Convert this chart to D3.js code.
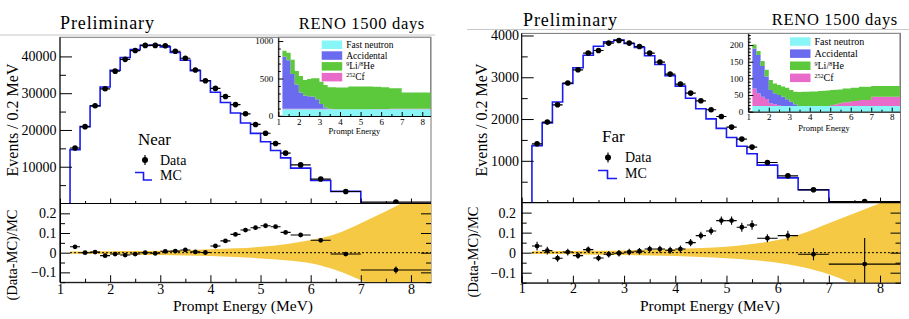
<!DOCTYPE html>
<html>
<head>
<meta charset="utf-8">
<script src="https://cdn.jsdelivr.net/npm/d3@7"></script>
<style>
  body { margin: 0; background: #fff; }
  svg { display: block; }
  text { font-family: "Liberation Serif", "Times New Roman", serif; fill: #000; }
</style>
</head>
<body>
<svg id="chart" width="909" height="319"></svg>
<script>
// bin edges shared by both detectors (MeV); 0.2 MeV bins then wider ones
const binEdges = [1.2, 1.4, 1.6, 1.8, 2.0, 2.2, 2.4, 2.6, 2.8, 3.0, 3.2, 3.4, 3.6, 3.8, 4.0,
  4.2, 4.4, 4.6, 4.8, 5.0, 5.2, 5.4, 5.6, 6.0, 6.4, 7.0, 8.4];

// Near detector, events / 0.2 MeV
const nearData = [15100, 20900, 26600, 31200, 36000, 39200, 41600, 43000, 43000, 42900, 41400, 39500,
  36300, 33400, 31300, 29100, 26900, 24400, 21500, 19100, 16300, 13700, 10500, 6650, 3270, 380];
const nearMC = [14660, 20900, 26500, 31700, 36250, 39700, 41900, 43000, 43100, 42600, 41070, 38950,
  36150, 33370, 30270, 27450, 24610, 21880, 19080, 16800, 14400, 12420, 9630, 6260, 3290, 0];
const nearRatio = [0.030, 0.000, 0.003, -0.015, -0.007, -0.012, -0.007, 0.000, -0.003, 0.007, 0.008, 0.014,
  0.004, 0.001, 0.034, 0.060, 0.093, 0.115, 0.127, 0.137, 0.132, 0.103, 0.090, 0.063, -0.007, -0.088];
const nearRatioErr = [0.004, 0.003, 0.003, 0.003, 0.003, 0.003, 0.003, 0.003, 0.003, 0.003, 0.003, 0.003,
  0.003, 0.003, 0.004, 0.004, 0.004, 0.004, 0.005, 0.005, 0.005, 0.006, 0.005, 0.006, 0.008, 0.018];

// Far detector, events / 0.2 MeV
const farData = [1408, 1927, 2341, 2861, 3179, 3579, 3641, 3818, 3881, 3818, 3737, 3579,
  3364, 3076, 2837, 2621, 2437, 2222, 2061, 1807, 1520, 1329, 960, 642, 306, 25];
const farMC = [1363, 1908, 2408, 2852, 3227, 3526, 3742, 3849, 3893, 3807, 3711, 3516,
  3305, 3040, 2787, 2496, 2246, 2005, 1777, 1558, 1349, 1168, 896, 592, 308, 0];
const farRatio = [0.033, 0.010, -0.028, 0.003, -0.015, 0.015, -0.027, -0.008, -0.003, 0.003, 0.007, 0.018,
  0.018, 0.012, 0.018, 0.050, 0.085, 0.108, 0.160, 0.160, 0.127, 0.138, 0.072, 0.085, -0.008, -0.057];
const farRatioErr = [0.022, 0.019, 0.018, 0.017, 0.016, 0.016, 0.016, 0.016, 0.016, 0.016, 0.016, 0.016,
  0.017, 0.017, 0.018, 0.018, 0.019, 0.019, 0.020, 0.021, 0.022, 0.024, 0.020, 0.024, 0.030, 0.130];

// systematic uncertainty band of the MC prediction
const bandE = [1.2, 1.5, 2, 2.5, 3, 3.5, 4, 4.5, 5, 5.5, 6, 6.5, 7, 7.5, 8, 8.4];
const nearBandUp = [0.006, 0.006, 0.007, 0.008, 0.010, 0.013, 0.017, 0.022, 0.030, 0.043, 0.064, 0.095, 0.150, 0.210, 0.280, 0.350];
const nearBandLo = [-0.006, -0.006, -0.008, -0.010, -0.012, -0.014, -0.017, -0.022, -0.029, -0.038, -0.054, -0.088, -0.140, -0.200, -0.270, -0.340];
const farBandUp = [0.007, 0.007, 0.008, 0.009, 0.011, 0.014, 0.018, 0.023, 0.030, 0.043, 0.063, 0.097, 0.147, 0.197, 0.247, 0.290];
const farBandLo = [-0.007, -0.007, -0.008, -0.010, -0.012, -0.014, -0.017, -0.022, -0.028, -0.037, -0.050, -0.073, -0.108, -0.160, -0.220, -0.270];

// backgrounds shown in the insets (stacked, same binning)
const nearFast = [90, 90, 90, 90, 90, 90, 90, 90, 90, 90, 90, 90, 90, 90, 90, 90, 90, 90, 90, 90, 90, 90, 90, 90, 90, 90];
const nearCf = [8, 8, 8, 8, 8, 8, 8, 8, 8, 8, 6, 4, 2, 0, 0, 0, 0, 0, 0, 0, 0, 0, 2, 4, 6, 8];
const nearAcc = [697, 647, 462, 322, 217, 177, 164, 160, 127, 62, 19, 4, 0, 0, 0, 0, 0, 0, 0, 0, 0, 0, 0, 0, 0, 0];
const nearLiHe = [75, 100, 190, 180, 220, 205, 233, 247, 280, 298, 298, 284, 290, 290, 290, 290, 305, 305, 305, 305, 305, 305, 298, 288, 274, 214];

const farFast = [17, 17, 17, 17, 17, 17, 17, 17, 17, 17, 17, 17, 17, 17, 17, 17, 17, 17, 17, 17, 17, 17, 17, 17, 17, 17];
const farCf = [53, 38, 28, 21, 8, 5, 3, 0, 0, 0, 0, 0, 0, 0, 0, 0, 0, 0, 0, 3, 5, 8, 11, 15, 18, 28];
const farAcc = [120, 115, 92, 68, 40, 33, 30, 28, 20, 13, 5, 0, 0, 0, 0, 0, 0, 0, 0, 0, 0, 0, 0, 0, 0, 0];
const farLiHe = [12, 12, 15, 20, 30, 30, 30, 31, 35, 35, 38, 42, 43, 43, 44, 44, 45, 46, 47, 45, 44, 42, 42, 40, 40, 32];

// ticks
const xTicks = [1, 2, 3, 4, 5, 6, 7, 8];
const xMinor = [1.5, 2.5, 3.5, 4.5, 5.5, 6.5, 7.5];
const ratioTicks = [-0.1, 0, 0.1, 0.2];
const ratioMinor = [-0.15, -0.05, 0.05, 0.15];
const nearYTicks = [10000, 20000, 30000, 40000];
const nearYMinor = [5000, 15000, 25000, 35000];
const farYTicks = [1000, 2000, 3000, 4000];
const farYMinor = [500, 1500, 2500, 3500];
const nearInsetTicks = [0, 500, 1000];
const nearInsetMinor = [100, 200, 300, 400, 600, 700, 800, 900];
const farInsetTicks = [0, 50, 100, 150, 200];
const farInsetMinor = [10, 20, 30, 40, 60, 70, 80, 90, 110, 120, 130, 140, 160, 170, 180, 190, 210, 220, 230];

const bkgKeys = ['fast', 'cf', 'acc', 'lihe'];
const bkgColors = { fast: '#88f6f6', cf: '#e86ac9', acc: '#6b6bef', lihe: '#5cc93c' };
const legendOrder = ['fast', 'acc', 'lihe', 'cf'];
const bandColor = '#f6c945';
const mcColor = '#1a1af2';

const svg = d3.select('#chart');

const panels = [
  {
    id: 'near', label: 'Near',
    data: nearData, mc: nearMC, ratio: nearRatio, ratioErr: nearRatioErr,
    bandUp: nearBandUp, bandLo: nearBandLo,
    bkg: { fast: nearFast, cf: nearCf, acc: nearAcc, lihe: nearLiHe },
    yMax: 45200, yTicks: nearYTicks, yMinor: nearYMinor,
    insetMax: 1050, insetTicks: nearInsetTicks, insetMinor: nearInsetMinor,
    frame: { left: 60, right: 431, top: 37.3, split: 203.5, bottom: 282.2 },
    inset: { left: 278.3, right: 430.5, top: 37.3, bottom: 116, tickBase: 125, titleBase: 134, legX: 321.7, legY: 44.5, legDy: 10.8, legFont: 9.5 },
    head: { lineY: 35, lineX0: 0, lineX1: 435, prelimX: 60, prelimY: 29, renoX: 425, renoY: 29 },
    yLabel: { x: 17.5, y: 120, rx: 17, ry: 255, tickRight: 56.5, ratioTickRight: 56.5 },
    xLabel: { x: 243, y: 310.5, tickBase: 293.5 },
    legend: { labelX: 138, labelY: 145, markX: 145, dataY: 160, dataBase: 164.5, mcY0: 172.5, mcY1: 180, mcBase: 180.4, mcX0: 135, mcX1: 152, textX: 160 }
  },
  {
    id: 'far', label: 'Far',
    data: farData, mc: farMC, ratio: farRatio, ratioErr: farRatioErr,
    bandUp: farBandUp, bandLo: farBandLo,
    bkg: { fast: farFast, cf: farCf, acc: farAcc, lihe: farLiHe },
    yMax: 4050, yTicks: farYTicks, yMinor: farYMinor,
    insetMax: 235, insetTicks: farInsetTicks, insetMinor: farInsetMinor,
    frame: { left: 521.7, right: 900.5, top: 33.4, split: 202.6, bottom: 282.7 },
    inset: { left: 748.3, right: 899.9, top: 33.4, bottom: 111.7, tickBase: 120.5, titleBase: 130.5, legX: 790, legY: 41.3, legDy: 12.1, legFont: 10 },
    head: { lineY: 29.5, lineX0: 467, lineX1: 909, prelimX: 523, prelimY: 25.5, renoX: 898, renoY: 25 },
    yLabel: { x: 487, y: 120, rx: 478, ry: 252, tickRight: 519, ratioTickRight: 516 },
    xLabel: { x: 710, y: 310.5, tickBase: 293 },
    legend: { labelX: 602, labelY: 142, markX: 608, dataY: 157.5, dataBase: 162, mcY0: 170.5, mcY1: 178.5, mcBase: 178, mcX0: 598, mcX1: 617, textX: 625 }
  }
];

const bins = binEdges.slice(0, -1).map((lo, i) => ({ i, lo, hi: binEdges[i + 1], mid: (lo + binEdges[i + 1]) / 2 }));

function styleAxis(sel) {
  sel.selectAll('.domain').attr('stroke', '#000').attr('stroke-width', 1);
  sel.selectAll('.tick line').attr('stroke', '#000').attr('stroke-width', 1);
  sel.selectAll('.tick text').attr('fill', '#000');
  sel.attr('font-family', null).attr('font-size', null);
}

function drawPanel(p) {
  const F = p.frame;
  const g = svg.append('g').attr('class', `panel-${p.id}`);

  const x = d3.scaleLinear().domain([1, 8.4]).range([F.left, F.right]);
  const y = d3.scaleLinear().domain([0, p.yMax]).range([F.split, F.top]);
  const yr = d3.scaleLinear().domain([-0.15, 0.25]).range([F.bottom, F.split]);

  // header text and separator line
  g.append('line')
    .attr('x1', p.head.lineX0).attr('x2', p.head.lineX1)
    .attr('y1', p.head.lineY).attr('y2', p.head.lineY)
    .attr('stroke', '#c8c8c8').attr('stroke-width', 1);
  g.append('text')
    .attr('x', p.head.prelimX).attr('y', p.head.prelimY)
    .style('font-size', '18px').style('letter-spacing', '0.9px')
    .text('Preliminary');
  g.append('text')
    .attr('x', p.head.renoX).attr('y', p.head.renoY)
    .attr('text-anchor', 'end')
    .style('font-size', '16.5px').style('letter-spacing', '0.7px')
    .text('RENO 1500 days');

  // clip regions
  const defs = g.append('defs');
  defs.append('clipPath').attr('id', `clip-main-${p.id}`)
    .append('rect').attr('x', F.left).attr('y', F.top - 1)
    .attr('width', F.right - F.left).attr('height', F.split - F.top + 1);
  defs.append('clipPath').attr('id', `clip-ratio-${p.id}`)
    .append('rect').attr('x', F.left).attr('y', F.split)
    .attr('width', F.right - F.left).attr('height', F.bottom - F.split);

  // frames
  g.append('rect')
    .attr('x', F.left).attr('y', F.top)
    .attr('width', F.right - F.left).attr('height', F.bottom - F.top)
    .attr('fill', 'none').attr('stroke', '#777').attr('stroke-width', 1);

  // ---------- main panel ----------
  const main = g.append('g').attr('clip-path', `url(#clip-main-${p.id})`);

  const mcPts = [[binEdges[0], 0]].concat(bins.map(b => [b.lo, p.mc[b.i]]), [[binEdges[binEdges.length - 1], 0]]);
  main.append('path')
    .datum(mcPts)
    .attr('fill', 'none')
    .attr('stroke', mcColor)
    .attr('stroke-width', 1.6)
    .attr('d', d3.line().x(d => x(d[0])).y(d => y(d[1])).curve(d3.curveStepAfter));

  main.selectAll('.data-bar').data(bins).enter().append('line')
    .attr('class', 'data-bar')
    .attr('x1', d => x(d.lo)).attr('x2', d => x(d.hi))
    .attr('y1', d => y(p.data[d.i])).attr('y2', d => y(p.data[d.i]))
    .attr('stroke', '#000').attr('stroke-width', 1.2);
  main.selectAll('.data-pt').data(bins).enter().append('circle')
    .attr('class', 'data-pt')
    .attr('cx', d => x(d.mid)).attr('cy', d => y(p.data[d.i]))
    .attr('r', 2.8).attr('fill', '#000');

  // main axes (ticks point inwards, ROOT style)
  const yAxis = g.append('g').attr('transform', `translate(${F.left},0)`)
    .call(d3.axisLeft(y).tickValues(p.yTicks).tickSize(-12).tickSizeOuter(0).tickPadding(3.5)
      .tickFormat(d3.format('d')));
  yAxis.select('.domain').remove();
  yAxis.selectAll('.tick text').style('font-size', '14px')
    .attr('x', p.yLabel.tickRight - F.left);
  styleAxis(yAxis);
  const yMinor = g.append('g').attr('transform', `translate(${F.left},0)`)
    .call(d3.axisLeft(y).tickValues(p.yMinor).tickSize(-6).tickSizeOuter(0).tickFormat(''));
  yMinor.select('.domain').remove();
  styleAxis(yMinor);

  const xMainAxis = g.append('g').attr('transform', `translate(0,${F.split})`)
    .call(d3.axisBottom(x).tickValues(xTicks).tickSize(-5).tickSizeOuter(0).tickFormat(''));
  xMainAxis.select('.domain').remove();
  styleAxis(xMainAxis);
  const xMainMinor = g.append('g').attr('transform', `translate(0,${F.split})`)
    .call(d3.axisBottom(x).tickValues(xMinor).tickSize(-2.5).tickSizeOuter(0).tickFormat(''));
  xMainMinor.select('.domain').remove();
  styleAxis(xMainMinor);

  // ---------- ratio panel ----------
  const ratio = g.append('g').attr('clip-path', `url(#clip-ratio-${p.id})`);
  const band = bandE.map((e, i) => ({ e, up: p.bandUp[i], lo: p.bandLo[i] }));
  ratio.append('path')
    .datum(band)
    .attr('fill', bandColor)
    .attr('d', d3.area().x(d => x(d.e)).y0(d => yr(d.lo)).y1(d => yr(d.up)).curve(d3.curveMonotoneX));

  ratio.append('line')
    .attr('x1', x(binEdges[0])).attr('x2', x(8.4))
    .attr('y1', yr(0)).attr('y2', yr(0))
    .attr('stroke', '#000').attr('stroke-width', 1)
    .attr('stroke-dasharray', '2,2');

  ratio.selectAll('.r-hbar').data(bins).enter().append('line')
    .attr('class', 'r-hbar')
    .attr('x1', d => x(d.lo)).attr('x2', d => x(d.hi))
    .attr('y1', d => yr(p.ratio[d.i])).attr('y2', d => yr(p.ratio[d.i]))
    .attr('stroke', '#000').attr('stroke-width', 1.1);
  ratio.selectAll('.r-vbar').data(bins).enter().append('line')
    .attr('class', 'r-vbar')
    .attr('x1', d => x(d.mid)).attr('x2', d => x(d.mid))
    .attr('y1', d => yr(p.ratio[d.i] - p.ratioErr[d.i]))
    .attr('y2', d => yr(p.ratio[d.i] + p.ratioErr[d.i]))
    .attr('stroke', '#000').attr('stroke-width', 1.1);
  ratio.selectAll('.r-pt').data(bins).enter().append('circle')
    .attr('class', 'r-pt')
    .attr('cx', d => x(d.mid)).attr('cy', d => yr(p.ratio[d.i]))
    .attr('r', 2.4).attr('fill', '#000');

  const ryAxis = g.append('g').attr('transform', `translate(${F.left},0)`)
    .call(d3.axisLeft(yr).tickValues(ratioTicks).tickSize(-10).tickSizeOuter(0)
      .tickFormat(d => d === 0 ? '0' : d3.format('.1f')(d)));
  ryAxis.selectAll('.tick text').style('font-size', '14px')
    .attr('x', p.yLabel.ratioTickRight - F.left);
  styleAxis(ryAxis);
  const ryMinor = g.append('g').attr('transform', `translate(${F.left},0)`)
    .call(d3.axisLeft(yr).tickValues(ratioMinor).tickSize(-5).tickSizeOuter(0).tickFormat(''));
  ryMinor.select('.domain').remove();
  styleAxis(ryMinor);
  const ryRight = g.append('g').attr('transform', `translate(${F.right},0)`)
    .call(d3.axisRight(yr).tickValues(ratioTicks).tickSize(-10).tickSizeOuter(0).tickFormat(''));
  ryRight.select('.domain').remove();
  styleAxis(ryRight);
  const ryRightMinor = g.append('g').attr('transform', `translate(${F.right},0)`)
    .call(d3.axisRight(yr).tickValues(ratioMinor).tickSize(-5).tickSizeOuter(0).tickFormat(''));
  ryRightMinor.select('.domain').remove();
  styleAxis(ryRightMinor);

  const xAxis = g.append('g').attr('transform', `translate(0,${F.bottom})`)
    .call(d3.axisBottom(x).tickValues(xTicks).tickSize(-7).tickSizeOuter(0).tickPadding(3));
  xAxis.selectAll('.tick text').style('font-size', '14px').attr('dy', null)
    .attr('y', p.xLabel.tickBase - F.bottom);
  styleAxis(xAxis);
  const xMinorAxis = g.append('g').attr('transform', `translate(0,${F.bottom})`)
    .call(d3.axisBottom(x).tickValues(xMinor).tickSize(-3.5).tickSizeOuter(0).tickFormat(''));
  xMinorAxis.select('.domain').remove();
  styleAxis(xMinorAxis);

  // shared line between main and ratio
  g.append('line')
    .attr('x1', F.left).attr('x2', F.right)
    .attr('y1', F.split).attr('y2', F.split)
    .attr('stroke', '#000').attr('stroke-width', 1.2);
  g.append('line')
    .attr('x1', F.left).attr('x2', F.left)
    .attr('y1', F.top).attr('y2', F.bottom)
    .attr('stroke', '#000').attr('stroke-width', 1);

  // axis titles
  g.append('text')
    .attr('transform', `translate(${p.yLabel.x},${p.yLabel.y}) rotate(-90)`)
    .attr('text-anchor', 'middle')
    .style('font-size', '16px')
    .text('Events / 0.2 MeV');
  g.append('text')
    .attr('transform', `translate(${p.yLabel.rx},${p.yLabel.ry}) rotate(-90)`)
    .attr('text-anchor', 'middle')
    .style('font-size', '14.5px')
    .text('(Data-MC)/MC');
  g.append('text')
    .attr('x', p.xLabel.x).attr('y', p.xLabel.y)
    .attr('text-anchor', 'middle')
    .style('font-size', '15.5px')
    .text('Prompt Energy (MeV)');

  // main legend
  const Lg = p.legend;
  g.append('text').attr('x', Lg.labelX).attr('y', Lg.labelY).style('font-size', '17px').text(p.label);
  g.append('line')
    .attr('x1', Lg.markX).attr('x2', Lg.markX)
    .attr('y1', Lg.dataY - 5).attr('y2', Lg.dataY + 5)
    .attr('stroke', '#000').attr('stroke-width', 1.2);
  g.append('circle').attr('cx', Lg.markX).attr('cy', Lg.dataY).attr('r', 3).attr('fill', '#000');
  g.append('text').attr('x', Lg.textX).attr('y', Lg.dataBase).style('font-size', '14px').text('Data');
  g.append('path')
    .attr('d', `M${Lg.mcX0},${Lg.mcY0}H${(Lg.mcX0 + Lg.mcX1) / 2}V${Lg.mcY1}H${Lg.mcX1}`)
    .attr('fill', 'none').attr('stroke', mcColor).attr('stroke-width', 1.6);
  g.append('text').attr('x', Lg.textX).attr('y', Lg.mcBase).style('font-size', '14px').text('MC');

  drawInset(g, p);
}

function drawInset(g, p) {
  const I = p.inset;
  const xi = d3.scaleLinear().domain([1, 8.4]).range([I.left, I.right]);
  const yi = d3.scaleLinear().domain([0, p.insetMax]).range([I.bottom, I.top]);

  const ins = g.append('g').attr('class', 'inset');
  ins.append('rect')
    .attr('x', I.left).attr('y', I.top)
    .attr('width', I.right - I.left).attr('height', I.bottom - I.top)
    .attr('fill', '#fff').attr('stroke', '#888').attr('stroke-width', 1);

  const rows = bins.map(b => ({
    fast: p.bkg.fast[b.i], cf: p.bkg.cf[b.i], acc: p.bkg.acc[b.i], lihe: p.bkg.lihe[b.i]
  }));
  const stacked = d3.stack().keys(bkgKeys)(rows);
  const area = d3.area()
    .x(d => xi(d.e)).y0(d => yi(d.y0)).y1(d => yi(d.y1))
    .curve(d3.curveStepAfter);

  stacked.forEach(layer => {
    const pts = layer.map((d, i) => ({ e: binEdges[i], y0: d[0], y1: d[1] }));
    const last = layer[layer.length - 1];
    pts.push({ e: binEdges[binEdges.length - 1], y0: last[0], y1: last[1] });
    ins.append('path')
      .datum(pts)
      .attr('fill', bkgColors[layer.key])
      .attr('d', area);
  });

  // inset axes
  const ax = ins.append('g').attr('transform', `translate(0,${I.bottom})`)
    .call(d3.axisBottom(xi).tickValues(xTicks).tickSize(-4).tickSizeOuter(0).tickPadding(2));
  ax.selectAll('.tick text').style('font-size', '9px').attr('dy', null)
    .attr('y', I.tickBase - I.bottom);
  styleAxis(ax);
  const axm = ins.append('g').attr('transform', `translate(0,${I.bottom})`)
    .call(d3.axisBottom(xi).tickValues(xMinor).tickSize(-2).tickSizeOuter(0).tickFormat(''));
  axm.select('.domain').remove();
  styleAxis(axm);

  const ay = ins.append('g').attr('transform', `translate(${I.left},0)`)
    .call(d3.axisLeft(yi).tickValues(p.insetTicks).tickSize(-5).tickSizeOuter(0).tickPadding(5)
      .tickFormat(d3.format('d')));
  ay.selectAll('.tick text').style('font-size', '9px');
  styleAxis(ay);
  const aym = ins.append('g').attr('transform', `translate(${I.left},0)`)
    .call(d3.axisLeft(yi).tickValues(p.insetMinor).tickSize(-2.5).tickSizeOuter(0).tickFormat(''));
  aym.select('.domain').remove();
  styleAxis(aym);

  ins.append('text')
    .attr('x', (I.left + I.right) / 2).attr('y', I.titleBase)
    .attr('text-anchor', 'middle')
    .style('font-size', '8.5px')
    .text('Prompt Energy');

  // inset legend
  const leg = ins.selectAll('.bkg-leg').data(legendOrder).enter().append('g')
    .attr('class', 'bkg-leg')
    .attr('transform', (d, i) => `translate(${I.legX},${I.legY + i * I.legDy})`);
  leg.append('rect')
    .attr('x', 0).attr('y', -4)
    .attr('width', 20.5).attr('height', 8.5)
    .attr('fill', d => bkgColors[d]);
  leg.append('text')
    .attr('x', 24.5).attr('y', 3.2)
    .style('font-size', `${I.legFont}px`)
    .each(function legendText(d) {
      const t = d3.select(this);
      if (d === 'fast') t.text('Fast neutron');
      else if (d === 'acc') t.text('Accidental');
      else if (d === 'lihe') {
        t.append('tspan').attr('dy', -3).style('font-size', '6px').text('9');
        t.append('tspan').attr('dy', 3).text('Li/');
        t.append('tspan').attr('dy', -3).style('font-size', '6px').text('8');
        t.append('tspan').attr('dy', 3).text('He');
      } else {
        t.append('tspan').attr('dy', -3).style('font-size', '6px').text('252');
        t.append('tspan').attr('dy', 3).text('Cf');
      }
    });
}

panels.forEach(drawPanel);
</script>
</body>
</html>
